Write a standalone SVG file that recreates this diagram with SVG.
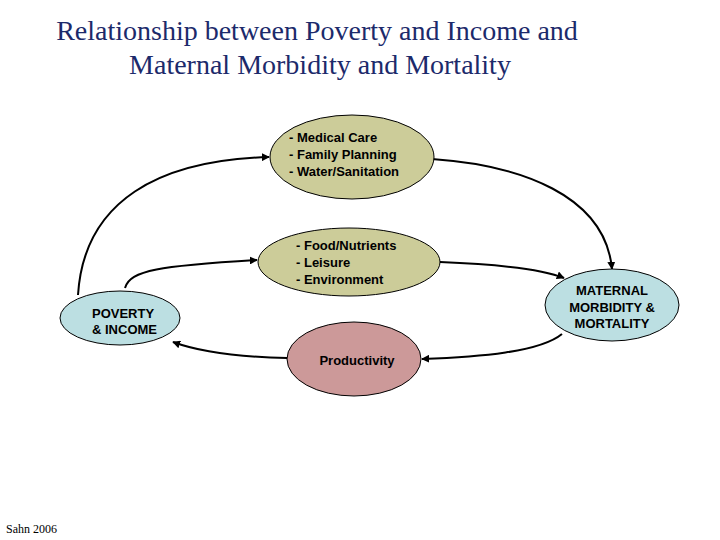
<svg xmlns="http://www.w3.org/2000/svg" width="720" height="540" viewBox="0 0 720 540">
<style>
.title{font-family:"Liberation Serif","Times New Roman",serif;font-size:28px;fill:#1c2a6b;text-anchor:middle}
.lbl{font-family:"Liberation Sans",Arial,sans-serif;font-size:13px;font-weight:bold;fill:#000}
.mid{text-anchor:middle}
.node{stroke:#000;stroke-width:1}
.tan{fill:#cccc99}
.blue{fill:#bcdfe2}
.rose{fill:#cc9999}
.conn{fill:none;stroke:#000;stroke-width:2;marker-end:url(#arr)}
.foot{font-family:"Liberation Serif","Times New Roman",serif;font-size:12px;fill:#000}
</style>
<defs>
<marker id="arr" viewBox="0 0 10 10" refX="9" refY="5" markerWidth="4" markerHeight="4" orient="auto" markerUnits="strokeWidth">
<path d="M0,0 L10,5 L0,10 z" fill="#000"/>
</marker>
</defs>
<rect width="720" height="540" fill="#fff"/>
<text class="title" x="317" y="40">Relationship between Poverty and Income and</text>
<text class="title" x="320" y="74">Maternal Morbidity and Mortality</text>

<g id="connectors">
<path class="conn" d="M78,295 C84,200 160,160 269,157"/>
<path class="conn" d="M125,288 C130,270 160,266 257,260"/>
<path class="conn" d="M432,159 C520,165 605,195 612,269"/>
<path class="conn" d="M440,262 C490,264 540,268 564,278"/>
<path class="conn" d="M562,334 C540,352 480,357 422,359"/>
<path class="conn" d="M287,358 C240,357 200,352 173,342"/>
</g>

<g id="medical">
<ellipse class="node tan" cx="352" cy="157" rx="82" ry="42"/>
<text class="lbl" x="289" y="142">- Medical Care</text>
<text class="lbl" x="289" y="159">- Family Planning</text>
<text class="lbl" x="289" y="176">- Water/Sanitation</text>
</g>

<g id="food">
<ellipse class="node tan" cx="349" cy="262" rx="91" ry="34"/>
<text class="lbl" x="296" y="250">- Food/Nutrients</text>
<text class="lbl" x="296" y="267">- Leisure</text>
<text class="lbl" x="296" y="284">- Environment</text>
</g>

<g id="poverty">
<ellipse class="node blue" cx="120" cy="318" rx="60" ry="27"/>
<text class="lbl" x="92" y="318">POVERTY</text>
<text class="lbl" x="92" y="334">&amp; INCOME</text>
</g>

<g id="maternal">
<ellipse class="node blue" cx="612" cy="305" rx="67" ry="36"/>
<text class="lbl mid" x="612" y="295">MATERNAL</text>
<text class="lbl mid" x="612" y="312">MORBIDITY &amp;</text>
<text class="lbl mid" x="612" y="328">MORTALITY</text>
</g>

<g id="productivity">
<ellipse class="node rose" cx="354" cy="359" rx="67" ry="37"/>
<text class="lbl mid" x="357" y="365">Productivity</text>
</g>

<text class="foot" x="6" y="533">Sahn 2006</text>
</svg>
